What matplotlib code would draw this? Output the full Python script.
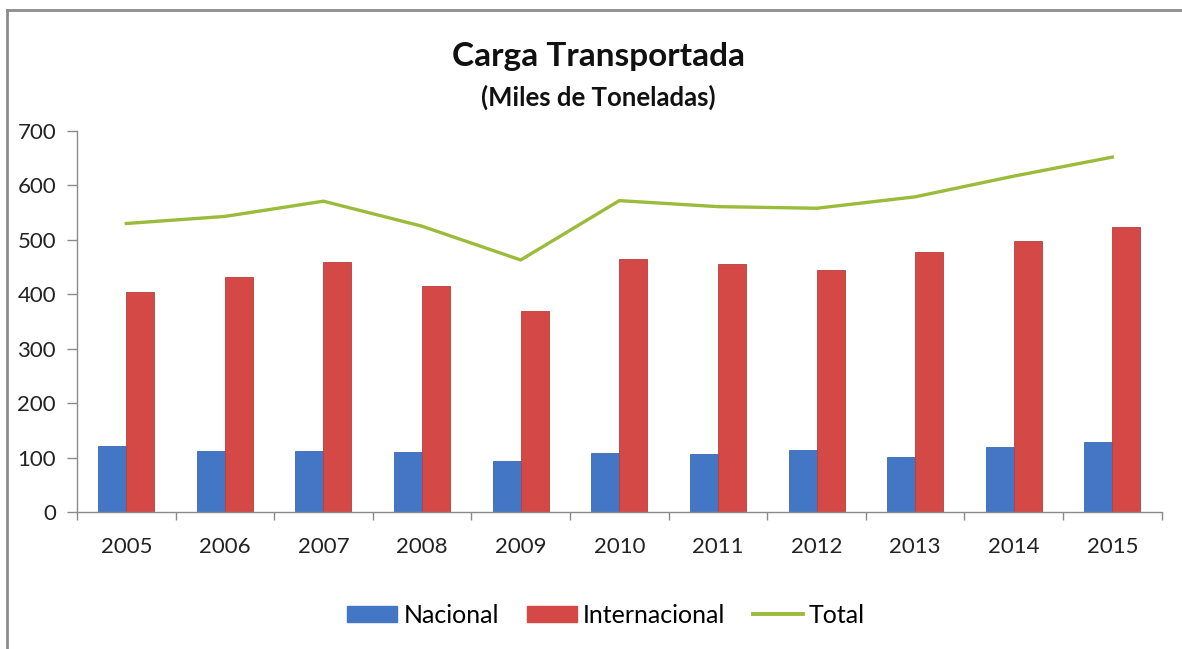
import matplotlib.pyplot as plt
import numpy as np
from matplotlib.lines import Line2D

plt.rcParams['font.family'] = ['Lato', 'DejaVu Sans']

years = ['2005', '2006', '2007', '2008', '2009', '2010', '2011', '2012', '2013', '2014', '2015']
nacional = [122, 112, 112, 110, 94, 108, 106, 113, 101, 119, 129]
internacional = [405, 431, 459, 415, 369, 464, 455, 445, 478, 498, 523]
total = [530, 543, 571, 525, 463, 572, 561, 558, 579, 617, 652]

blue = '#4377C6'
red = '#D44846'
green = '#9BBB3B'
axis_gray = '#8A8A8A'

fig = plt.figure(figsize=(11.82, 6.49), dpi=100)
ax = fig.add_axes([0.0651, 0.2111, 0.9177, 0.5871])

x = np.arange(len(years))
w = 0.284
ax.bar(x - w / 2, nacional, w, color=blue, edgecolor='#3A68B0', linewidth=0.6, label='Nacional', zorder=2)
ax.bar(x + w / 2, internacional, w, color=red, edgecolor='#B83D3B', linewidth=0.6, label='Internacional', zorder=2)
ax.plot(x, total, color=green, linewidth=2.4, label='Total', zorder=3)

ax.set_xlim(-0.5, len(years) - 0.5)
ax.set_ylim(0, 700)
ax.set_yticks(range(0, 701, 100))
ax.set_xticks(x)
ax.set_xticklabels(years)
ax.set_xticks(np.arange(-0.5, len(years), 1.0), minor=True)

for s in ['top', 'right']:
    ax.spines[s].set_visible(False)
for s in ['left', 'bottom']:
    ax.spines[s].set_color(axis_gray)
    ax.spines[s].set_linewidth(1.0)

ax.tick_params(axis='y', direction='out', length=7, width=1, color=axis_gray,
               labelsize=16, labelcolor='#222222', pad=8)
ax.tick_params(axis='x', which='major', length=0, labelsize=16, labelcolor='#222222', pad=18)
ax.tick_params(axis='x', which='minor', direction='out', length=6, width=1, color=axis_gray)

fig.text(0.506, 0.913, 'Carga Transportada', ha='center', va='center',
         fontsize=24, fontweight='bold', color='#111111')
fig.text(0.506, 0.850, '(Miles de Toneladas)', ha='center', va='center',
         fontsize=18.5, fontweight='bold', color='#111111')

handles = [plt.Rectangle((0, 0), 1, 1, color=blue),
           plt.Rectangle((0, 0), 1, 1, color=red),
           Line2D([0], [0], color=green, linewidth=2.8)]
fig.legend(handles, ['Nacional', 'Internacional', 'Total'], loc='center',
           bbox_to_anchor=(0.513, 0.052), ncol=3, frameon=False, fontsize=18,
           handlelength=2.0, handleheight=0.6, handletextpad=0.25, columnspacing=1.1)

# marco del grafico
fig.add_artist(Line2D([7 / 1182, 1], [1 - 10 / 649, 1 - 10 / 649], transform=fig.transFigure,
                      color='#8C8C8C', linewidth=2))
fig.add_artist(Line2D([7 / 1182, 7 / 1182], [0, 1 - 10 / 649], transform=fig.transFigure,
                      color='#8C8C8C', linewidth=2))

fig.savefig('out.png', dpi=100)
